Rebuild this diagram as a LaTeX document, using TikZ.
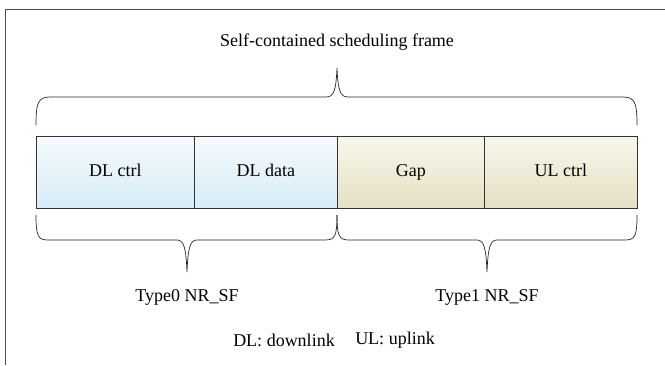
\documentclass[tikz,border=0pt]{standalone}
\usepackage{fontspec}
\setmainfont{Liberation Serif}
\begin{document}
\begin{tikzpicture}[x=1pt,y=-1pt,
  lbl/.style={font=\fontsize{18}{20}\selectfont, inner sep=0pt},
  slot/.style={draw=black!80, line width=0.7pt, minimum width=#1, minimum height=72pt,
    inner sep=0pt, anchor=north west, text height=12pt, text depth=3pt,
    font=\fontsize{18}{20}\selectfont},
  dl/.style={top color=dlTop, bottom color=dlBot},
  ul/.style={top color=ulTop, bottom color=ulBot},
  brace/.style={draw=black!85, line width=0.7pt}]
\definecolor{dlTop}{HTML}{F5FAFD}
\definecolor{dlBot}{HTML}{D6ECF8}
\definecolor{ulTop}{HTML}{F8F7EC}
\definecolor{ulBot}{HTML}{E5E0C2}
\useasboundingbox (0,0) rectangle (665,365);
% outer frame (left and top edges)
\draw[black!70, line width=0.8pt] (5,365) -- (5,9) -- (665,9);

% slots of the frame
\node[slot=158pt, dl] (dlctrl) at (36,136) {DL ctrl};
\node[slot=143pt, dl] (dldata) at (194,136) {DL data};
\node[slot=147pt, ul] (gap)    at (337,136) {Gap};
\node[slot=153pt, ul] (ulctrl) at (484,136) {UL ctrl};

% labels
\node[lbl] (title) at (337,42) {Self-contained scheduling frame};
\node[lbl] (type0) at (187,297) {Type0 NR\_SF};
\node[lbl] (type1) at (487,297) {Type1 NR\_SF};
\node[lbl] (dlkey) at (284,340) {DL: downlink};
\node[lbl] (ulkey) at (395,340) {UL: uplink};

% brace over the whole frame
\draw[brace] (36,125) .. controls (36,103) and (38,97) .. (50,97) -- (326,97)
  .. controls (334,97) and (336,90) .. (337,68)
  .. controls (338,90) and (340,97) .. (348,97) -- (623,97)
  .. controls (635,97) and (637,103) .. (637,125);

% braces under the two halves
\draw[brace] (36,215) .. controls (36,236) and (38,240) .. (48,240) -- (177,240)
  .. controls (184,240) and (186,248) .. (187,272)
  .. controls (188,248) and (190,240) .. (197,240) -- (325,240)
  .. controls (335,240) and (337,236) .. (337,215);
\draw[brace] (337,215) .. controls (337,236) and (339,240) .. (349,240) -- (477,240)
  .. controls (484,240) and (486,248) .. (487,272)
  .. controls (488,248) and (490,240) .. (497,240) -- (625,240)
  .. controls (635,240) and (637,236) .. (637,215);
\end{tikzpicture}
\end{document}
